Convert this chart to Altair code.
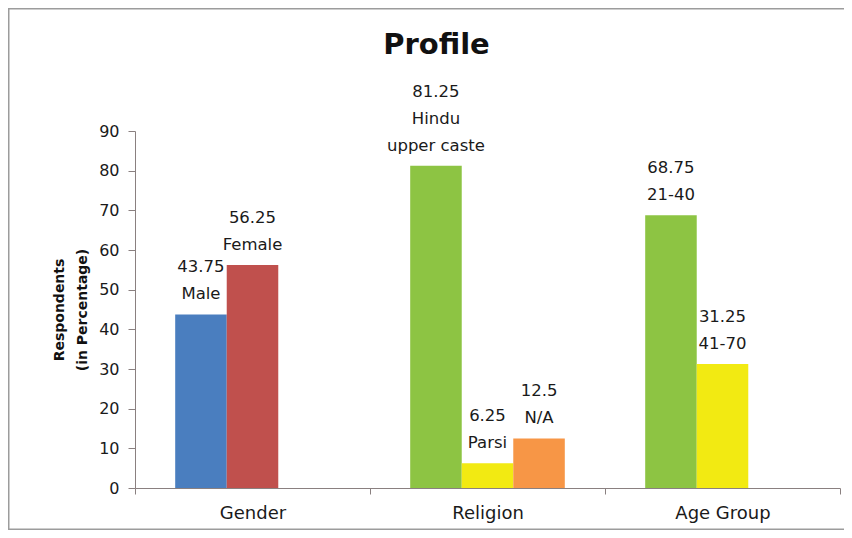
import altair as alt
import pandas as pd

categories = ["Gender", "Religion", "Age Group"]
bar_cat = ["Gender", "Gender", "Religion", "Religion", "Religion", "Age Group", "Age Group"]
bar_slot = ["s1", "s2", "s1", "s2", "s3", "s1", "s2"]
bar_key = ["Male", "Female", "Hindu upper caste", "Parsi", "N/A", "21-40", "41-70"]
values = [43.75, 56.25, 81.25, 6.25, 12.5, 68.75, 31.25]
label_names = ["Male", "Female", "Hindu\nupper caste", "Parsi", "N/A", "21-40", "41-70"]
colors = ["#4a7ebf", "#c0504d", "#8dc443", "#f2ea12", "#f79646", "#8dc443", "#f2ea12"]
y_ticks = [0, 10, 20, 30, 40, 50, 60, 70, 80, 90]

labels = [f"{v:g}\n{n}" for v, n in zip(values, label_names)]
nlines = [lab.count("\n") + 1 for lab in labels]
df = pd.DataFrame({"cat": bar_cat, "slot": bar_slot, "key": bar_key,
                   "value": values, "label": labels, "nlines": nlines})

FONT = "DejaVu Sans"
AX = "#8a8080"
LH = 27

base = alt.Chart(df).encode(
    x=alt.X("cat:N", sort=categories, title=None,
            scale=alt.Scale(paddingInner=0, paddingOuter=0),
            axis=alt.Axis(labelAngle=0, tickBand="extent", tickSize=6,
                          labelPadding=10, labelFontSize=18, labelFont=FONT,
                          labelColor="#1a1a1a", domainColor=AX, tickColor=AX)),
    xOffset=alt.XOffset("slot:N", scale=alt.Scale(domain=["s1", "s2", "s3"],
                                                  paddingInner=0, paddingOuter=0.78)),
    y=alt.Y("value:Q", scale=alt.Scale(domain=[0, 90], nice=False),
            title=["Respondents", "(in Percentage)"],
            axis=alt.Axis(values=y_ticks, grid=False, tickSize=7, labelPadding=9,
                          labelFontSize=16, labelFont=FONT, labelColor="#1a1a1a",
                          domainColor=AX, tickColor=AX,
                          titleFont=FONT, titleFontSize=14, titleFontWeight="bold",
                          titleColor="#111", titlePadding=9, titleLineHeight=23)),
)

bars = base.mark_bar().encode(
    color=alt.Color("key:N", scale=alt.Scale(domain=bar_key, range=colors), legend=None)
)

text_layers = []
for n in sorted(set(nlines)):
    text_layers.append(
        base.transform_filter(alt.datum.nlines == n).mark_text(
            baseline="alphabetic", dy=-15 - (n - 1) * LH, lineBreak="\n", lineHeight=LH,
            fontSize=16.5, font=FONT, color="#1a1a1a").encode(text="label:N")
    )

one = pd.DataFrame({"a": [0]})
FR = dict(stroke="#9c9c9c", strokeWidth=1.5)
frame_left = alt.Chart(one).mark_rule(**FR).encode(
    x=alt.value(-126.25), y=alt.value(-123), y2=alt.value(399))
frame_top = alt.Chart(one).mark_rule(**FR).encode(
    x=alt.value(-127), x2=alt.value(720), y=alt.value(-122.25))
frame_bottom = alt.Chart(one).mark_rule(**FR).encode(
    x=alt.value(-127), x2=alt.value(720), y=alt.value(398.25))

chart = alt.layer(frame_left, frame_top, frame_bottom, bars, *text_layers).properties(
    width=705, height=357,
    title=alt.TitleParams("Profile", font=FONT, fontSize=29, fontWeight="bold",
                          color="#111", anchor="middle", frame="group", dx=-51,
                          baseline="alphabetic", offset=0, dy=76),
    autosize=alt.AutoSizeParams(type="none"),
    padding={"left": 127, "top": 123, "right": 4, "bottom": 42},
    background="white",
).configure_view(stroke=None)

chart.save("out.html", embed_options={"renderer": "svg", "actions": False})
